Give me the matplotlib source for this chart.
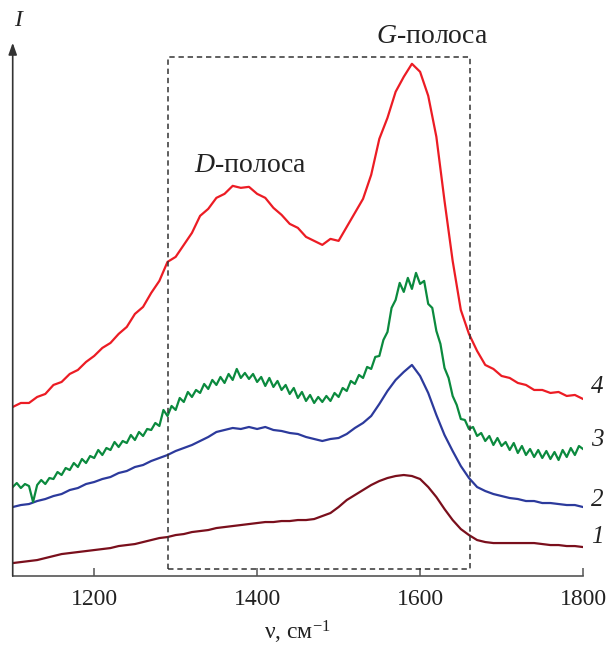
import matplotlib
matplotlib.use("Agg")
import matplotlib.pyplot as plt
import numpy as np

# ---- data (intensity in arbitrary units) ----
# wavenumber grids (cm^-1)
nu10 = list(range(1100, 1801, 10))   # for curves 1, 2, 4
nu5 = list(range(1100, 1801, 5))     # for the noisy curve 3

I4 = [169, 173, 173, 179, 182, 191, 194, 202, 206, 214, 220, 228, 233, 242, 249, 262, 269, 283,
      295, 314, 319, 331, 343, 360, 367, 378, 382, 390, 388, 389, 382, 378, 368, 361, 352, 348,
      339, 335, 331, 337, 335, 349, 363, 377, 401, 437, 458, 484, 499, 512, 504, 480, 439, 375,
      315, 266, 242, 225, 211, 207, 200, 198, 193, 191, 186, 186, 183, 184, 180, 181, 177]

I2 = [69, 71, 72, 75, 77, 80, 82, 86, 88, 92, 94, 97, 99, 103, 105, 109, 111, 115,
      118, 121, 125, 128, 131, 135, 139, 144, 146, 148, 147, 149, 147, 149, 146, 145, 143, 142,
      139, 137, 135, 137, 138, 142, 148, 153, 160, 172, 185, 196, 204, 211, 200, 183, 161, 141,
      125, 110, 98, 89, 85, 82, 80, 78, 77, 75, 75, 73, 73, 72, 71, 71, 69]

I1 = [13, 14, 15, 16, 18, 20, 22, 23, 24, 25, 26, 27, 28, 30, 31, 32, 34, 36,
      38, 39, 41, 42, 44, 45, 46, 48, 49, 50, 51, 52, 53, 54, 54, 55, 55, 56,
      56, 57, 60, 63, 69, 76, 81, 86, 91, 95, 98, 100, 101, 100, 97, 89, 79, 67,
      56, 47, 41, 36, 34, 33, 33, 33, 33, 33, 33, 32, 31, 31, 30, 30, 29]

I3 = [89, 93, 88, 92, 90, 74, 91, 96, 92, 98, 97, 104, 101, 108, 106, 113, 109, 117, 113, 120,
      118, 126, 121, 128, 126, 134, 129, 135, 133, 141, 136, 144, 140, 147, 146, 153, 150, 166,
      160, 170, 166, 178, 174, 184, 179, 186, 183, 192, 187, 196, 191, 199, 193, 202, 196, 207,
      198, 203, 197, 202, 194, 199, 190, 198, 189, 195, 186, 191, 182, 188, 178, 184, 175, 181,
      173, 179, 174, 180, 175, 183, 179, 188, 185, 195, 192, 201, 198, 209, 207, 219, 220, 236,
      244, 268, 276, 293, 284, 298, 287, 303, 292, 295, 272, 268, 245, 232, 208, 198, 180, 171,
      157, 156, 147, 149, 140, 143, 135, 140, 131, 138, 130, 134, 126, 133, 123, 130, 121, 127,
      119, 126, 118, 125, 117, 124, 116, 126, 119, 128, 121, 130, 127]

xticks = [1200, 1400, 1600, 1800]
curve_labels = ["1", "2", "3", "4"]
band_labels = ["$D$-полоса", "$G$-полоса"]

colors = {"1": "#7a0f1c", "2": "#2c3a9c", "3": "#0b8a3e", "4": "#ec1c24"}

plt.rcParams['font.family'] = ['Liberation Serif', 'DejaVu Serif']
plt.rcParams['mathtext.fontset'] = 'custom'
plt.rcParams['mathtext.rm'] = 'Liberation Serif'
plt.rcParams['mathtext.it'] = 'Liberation Serif:italic'

fig = plt.figure(figsize=(6.11, 6.48), dpi=100)
ax = fig.add_axes([0.0208, 0.111, 0.9334, 0.823])
ax.set_xlim(1100, 1800)
ax.set_ylim(0, 533)

for nu, I, key in [(nu10, I1, "1"), (nu10, I2, "2"), (nu5, I3, "3"), (nu10, I4, "4")]:
    ax.plot(nu, I, color=colors[key], lw=1.6, solid_joinstyle='round')

# dashed box
ax.plot([1290, 1290, 1661, 1661, 1290], [7, 519, 519, 7, 7], color="#333333",
        lw=1.1, ls=(0, (3.5, 2.5)))

for spine in ["top", "right", "left"]:
    ax.spines[spine].set_visible(False)
ax.spines["bottom"].set_color("#555555")
ax.spines["bottom"].set_linewidth(1.2)
ax.set_yticks([])
ax.set_xticks(xticks)
ax.set_xticklabels([str(t) for t in xticks])
ax.tick_params(axis='x', direction='in', length=6, width=1.1, color="#555555",
               labelsize=17, pad=9, labelcolor="#222222")

# y axis arrow
ax.annotate("", xy=(0, 1.0), xytext=(0, 0), xycoords='axes fraction',
            arrowprops=dict(arrowstyle="-|>,head_length=0.7,head_width=0.25",
                            color="#333333", lw=1.2, shrinkA=0, shrinkB=0))
ax.text(0.012, 1.041, "$I$", transform=ax.transAxes, fontsize=17, ha='center',
        va='center', color="#222222")

ax.set_xlabel("ν, см$^{-1}$", fontsize=17, color="#222222", labelpad=7)

# band labels
ax.text(1391, 410, band_labels[0], fontsize=20, ha='center', va='center', color="#222222")
ax.text(1615, 539, band_labels[1], fontsize=20, ha='center', va='center',
        color="#222222", clip_on=False)

# curve labels
for lab, yv in zip(curve_labels, [39, 76, 136, 189]):
    ax.text(1818, yv, lab, fontsize=18, style='italic', ha='center', va='center',
            color="#222222", clip_on=False)

fig.savefig("out.png", dpi=100)
